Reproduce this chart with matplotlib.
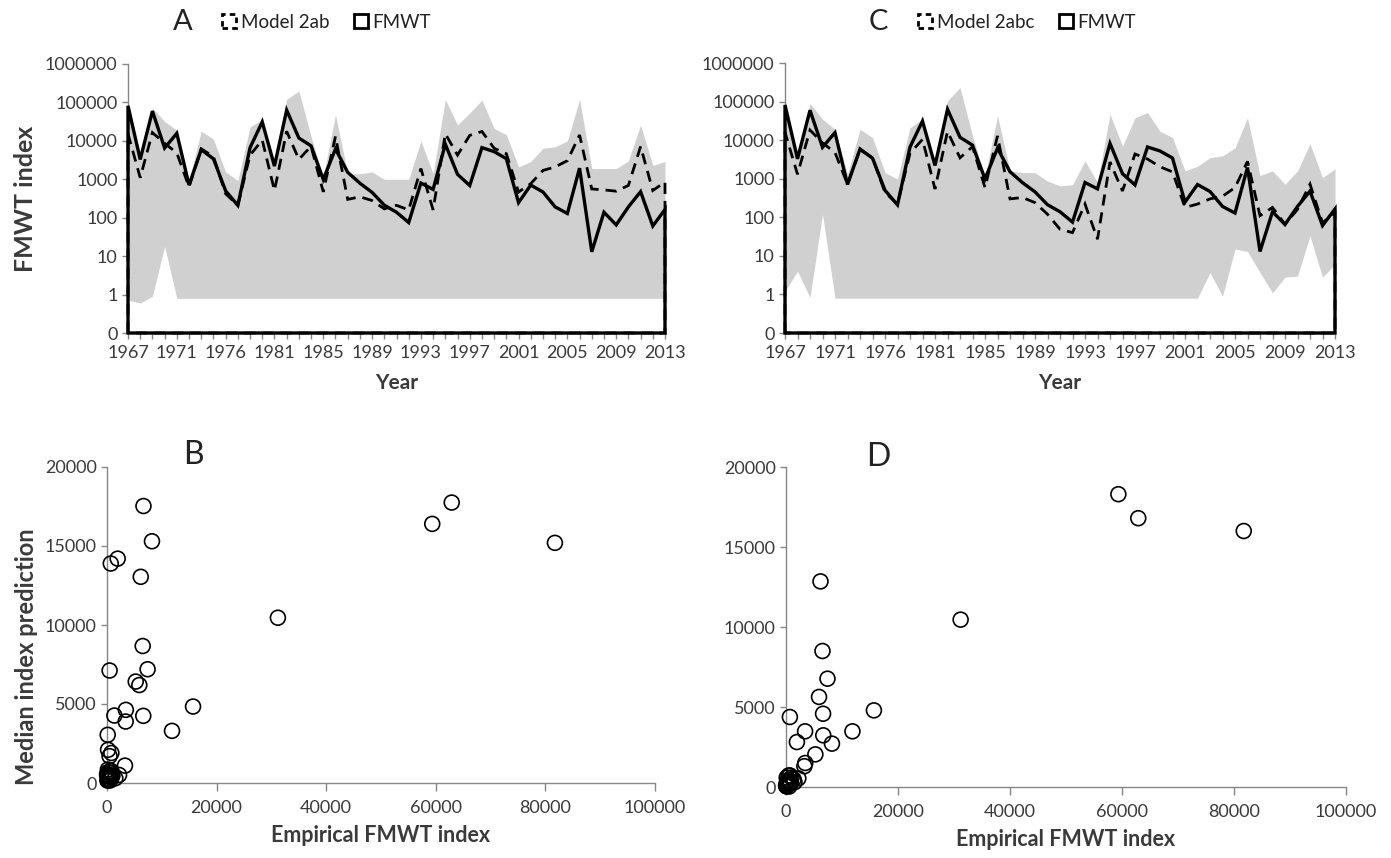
import numpy as np
import matplotlib
matplotlib.use('Agg')
import matplotlib.pyplot as plt
from matplotlib.patches import Patch
from matplotlib.ticker import FixedLocator, NullLocator

plt.rcParams['font.family'] = ['Lato', 'DejaVu Sans']

# FMWT survey years (no index in 1974 and 1979)
years = [1967, 1968, 1969, 1970, 1971, 1972, 1973, 1975, 1976, 1977, 1978,
         1980, 1981, 1982, 1983, 1984, 1985, 1986, 1987, 1988, 1989,
         1990, 1991, 1992, 1993, 1994, 1995, 1996, 1997, 1998, 1999,
         2000, 2001, 2002, 2003, 2004, 2005, 2006, 2007, 2008, 2009,
         2010, 2011, 2012, 2013]

# empirical FMWT index
fmwt = [81737, 3279, 59350, 6515, 15700, 708, 5896, 3410, 500, 210, 6619,
        31184, 2202, 62905, 11864, 7408, 992, 6160, 1520, 791, 456,
        212, 139, 75, 798, 545, 8205, 1346, 690, 6654, 5243,
        3437, 247, 707, 467, 191, 129, 1949, 13, 139, 65,
        191, 477, 61, 164]

# Model 2ab: median prediction and band
model_2ab = [15200, 1100, 16400, 8670, 4840, 630, 6200, 3890, 420, 210, 4250,
             10460, 510, 17750, 3300, 7200, 470, 13050, 300, 350, 280,
             170, 210, 160, 1900, 160, 15300, 4270, 13890, 17530, 6420,
             4630, 465, 770, 1700, 2100, 3050, 14200, 560, 530, 490,
             690, 7120, 510, 850]
upper_2ab = [90000, 4800, 72000, 32000, 19000, 930, 18000, 11000, 1550, 930, 23000,
             36000, 3200, 120000, 200000, 13000, 1150, 48000, 1400, 1400, 1550,
             1000, 1000, 1000, 10000, 1400, 120000, 26000, 53000, 115000, 21000,
             14500, 2100, 2900, 6400, 7000, 10000, 120000, 1900, 1900, 1900,
             3000, 26000, 2300, 2900]
lower_2ab = [0.72, 0.6, 0.9, 18] + [0.8] * 41

# Model 2abc: median prediction and band
model_2abc = [16000, 1300, 18300, 8500, 4790, 720, 5630, 3480, 440, 220, 4580,
              10460, 540, 16800, 3480, 6770, 590, 12850, 300, 325, 240,
              120, 49, 40, 220, 27, 2710, 480, 4375, 3230, 2040,
              1500, 180, 220, 300, 350, 590, 2810, 110, 180, 66,
              160, 720, 72, 130]
upper_2abc = [90000, 5000, 90000, 35000, 19000, 1300, 19000, 11700, 1440, 980, 21000,
              35000, 2100, 105000, 230000, 13000, 1100, 43000, 1600, 1440, 1440,
              870, 650, 700, 2900, 800, 47000, 7000, 38000, 52000, 17000,
              11800, 1600, 2100, 3500, 3900, 6300, 38000, 1200, 1600, 720,
              1600, 8000, 1070, 1800]
lower_2abc = [1.2, 4, 0.83, 120] + [0.8] * 30 + [3.7, 0.9, 15, 13, 3.7, 1.1, 2.8, 3, 33, 2.8, 6]

W, H = 1391, 858
fig = plt.figure(figsize=(W / 100, H / 100), dpi=100)

GREY = '#868686'
TXT = '#3a3a3a'


def rect(l, t, r, b):
    return [l / W, 1 - b / H, (r - l) / W, (b - t) / H]


def style(ax):
    for s in ['top', 'right']:
        ax.spines[s].set_visible(False)
    for s in ['left', 'bottom']:
        ax.spines[s].set_color(GREY)
        ax.spines[s].set_linewidth(1.0)
    ax.tick_params(colors=GREY, labelcolor=TXT, labelsize=13, length=4, width=1)


def series_panel(ax, model, upper, lower):
    idx = np.arange(len(years))
    ax.set_yscale('log')
    ax.fill_between(idx, lower, upper, color='#d0d0d0', lw=0, zorder=1)
    base = 0.1
    xs = np.concatenate([[0], idx, [idx[-1]]])
    ax.fill(xs, np.concatenate([[base], model, [base]]), fill=False,
            edgecolor='black', lw=2.0, ls=(0, (4, 2.5)), zorder=3, clip_on=False)
    ax.fill(xs, np.concatenate([[base], fmwt, [base]]), fill=False,
            edgecolor='black', lw=2.4, zorder=4, clip_on=False, joinstyle='miter')
    ax.set_xlim(0, idx[-1])
    ax.set_ylim(0.1, 1e6)
    yt = [0.1, 1, 10, 100, 1000, 10000, 100000, 1000000]
    ax.yaxis.set_major_locator(FixedLocator(yt))
    ax.yaxis.set_minor_locator(NullLocator())
    ax.set_yticklabels(['0', '1', '10', '100', '1000', '10000', '100000', '1000000'])
    ax.set_xticks(idx[::4])
    ax.set_xticklabels([str(years[i]) for i in idx[::4]])
    ax.set_xticks(idx, minor=True)
    style(ax)
    ax.tick_params(axis='x', which='minor', colors=GREY, length=4, width=1)
    ax.tick_params(axis='x', pad=5)
    ax.set_xlabel('Year', fontsize=15, fontweight='bold', color=TXT, labelpad=8)


def scatter_panel(ax, model):
    ax.scatter(fmwt, model, s=115, facecolors='none', edgecolors='black',
               linewidths=1.2, zorder=3, clip_on=False)
    ax.set_xlim(0, 100000)
    ax.set_ylim(0, 20000)
    ax.set_xticks(np.arange(0, 100001, 20000))
    ax.set_yticks(np.arange(0, 20001, 5000))
    style(ax)
    ax.tick_params(axis='x', length=6, pad=6)
    ax.set_xlabel('Empirical FMWT index', fontsize=15.5, fontweight='bold', color=TXT, labelpad=7)


axA = fig.add_axes(rect(128, 64, 665, 333))
series_panel(axA, model_2ab, upper_2ab, lower_2ab)
axA.set_ylabel('FMWT index', fontsize=18, fontweight='bold', color=TXT, labelpad=6)

axC = fig.add_axes(rect(785, 63, 1335, 333))
series_panel(axC, model_2abc, upper_2abc, lower_2abc)

axB = fig.add_axes(rect(107, 467, 655, 783))
scatter_panel(axB, model_2ab)
axB.set_ylabel('Median index prediction', fontsize=17, fontweight='bold', color=TXT)
axB.yaxis.set_label_coords(-0.125, 0.40)

axD = fig.add_axes(rect(786, 467, 1346, 787))
scatter_panel(axD, model_2abc)

# panel letters
fig.text(183 / W, 1 - 22 / H, 'A', fontsize=21, ha='center', va='center', color='#222222')
fig.text(878 / W, 1 - 22 / H, 'C', fontsize=21, ha='center', va='center', color='#222222')
fig.text(193 / W, 1 - 455 / H, 'B', fontsize=23, ha='center', va='center', color='#222222')
fig.text(878 / W, 1 - 457 / H, 'D', fontsize=23, ha='center', va='center', color='#222222')

# legends above the top panels
for ax, name, x0 in [(axA, 'Model 2ab', 222), (axC, 'Model 2abc', 918)]:
    handles = [Patch(facecolor='white', edgecolor='black', linestyle=(0, (2, 1.5)), lw=2, label=name),
               Patch(facecolor='white', edgecolor='black', lw=2, label='FMWT')]
    fig.legend(handles=handles, loc='center left', bbox_to_anchor=(x0 / W, 1 - 22 / H),
               ncol=2, frameon=False, fontsize=13.5, handlelength=0.75, handleheight=0.75,
               handletextpad=0.25, columnspacing=1.3, borderaxespad=0, borderpad=0,
               labelcolor='#222222')

plt.savefig('out.png', dpi=100)
